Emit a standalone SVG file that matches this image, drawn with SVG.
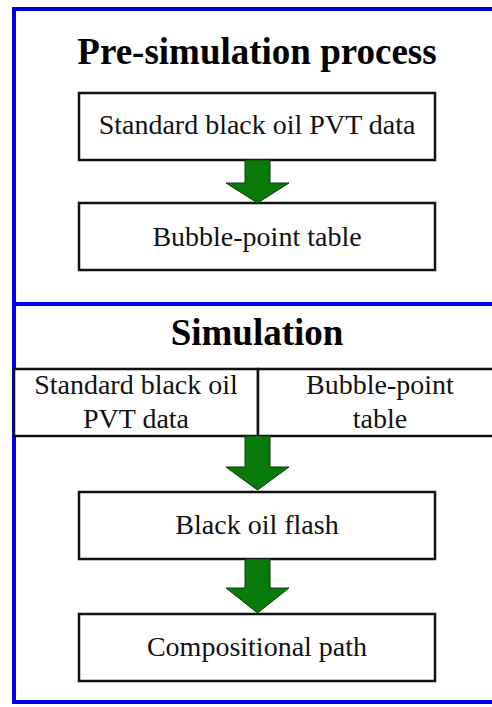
<svg xmlns="http://www.w3.org/2000/svg" width="492" height="707" viewBox="0 0 492 707">
<style>
.frame{fill:none;stroke:#0000ee;stroke-width:4}
.box{fill:#fff;stroke:#111;stroke-width:2.5}
.t{font-family:"Liberation Serif","Times New Roman",serif;font-size:28px;fill:#111;text-anchor:middle}
.h{font-family:"Liberation Serif","Times New Roman",serif;font-size:37px;font-weight:bold;fill:#000;text-anchor:middle}
.arr{fill:#087a08;stroke:#0a3a0a;stroke-width:1}
</style>
<rect width="492" height="707" fill="#fff"/>
<g id="frame">
<rect class="frame" x="14" y="9" width="490" height="693"/>
<line class="frame" x1="14" y1="304" x2="492" y2="304"/>
</g>
<g id="title-pre"><text class="h" x="257" y="64">Pre-simulation process</text></g>
<g id="n1"><rect class="box" x="79" y="93" width="356" height="67"/><text class="t" x="257" y="134">Standard black oil PVT data</text></g>
<g id="n2"><rect class="box" x="79" y="203" width="356" height="67"/><text class="t" x="257" y="246">Bubble-point table</text></g>
<g id="title-sim"><text class="h" x="257" y="345">Simulation</text></g>
<g id="n3"><rect class="box" x="14" y="369" width="244" height="67"/><text class="t" x="136" y="394">Standard black oil</text><text class="t" x="136" y="428">PVT data</text></g>
<g id="n4"><rect class="box" x="258" y="369" width="250" height="67"/><text class="t" x="380" y="394">Bubble-point</text><text class="t" x="380" y="428">table</text></g>
<g id="n5"><rect class="box" x="79" y="492" width="356" height="67"/><text class="t" x="257" y="534">Black oil flash</text></g>
<g id="n6"><rect class="box" x="79" y="614" width="356" height="67"/><text class="t" x="257" y="656">Compositional path</text></g>
<g id="connectors">
<polygon class="arr" points="245,160 270,160 270,183 289,183 257.5,203 226,183 245,183"/>
<polygon class="arr" points="245,436 270,436 270,467 289,467 257.5,490 226,467 245,467"/>
<polygon class="arr" points="245,559 270,559 270,588 289,588 257.5,613 226,588 245,588"/>
</g>
</svg>
